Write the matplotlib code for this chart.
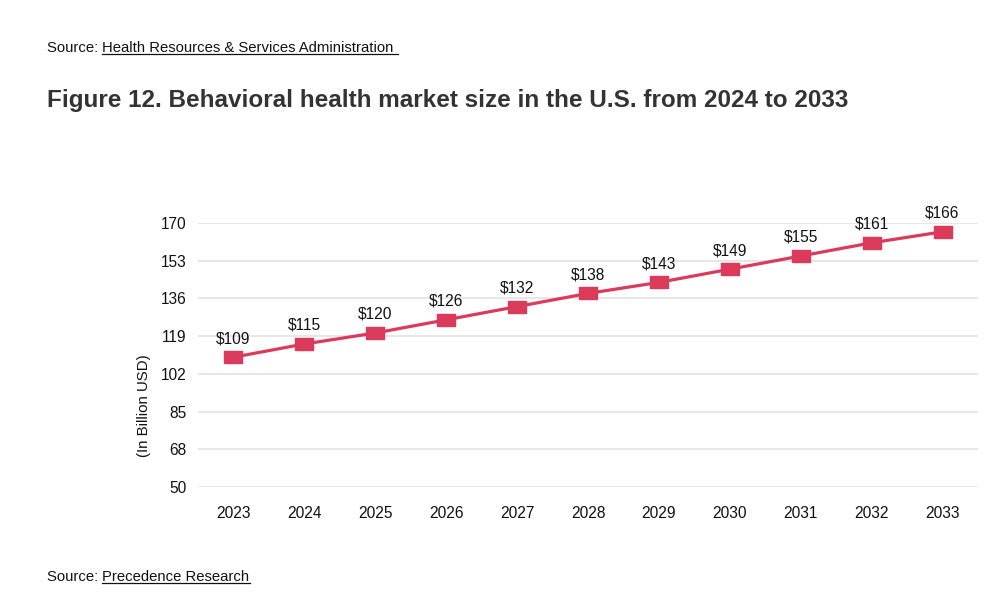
import matplotlib
matplotlib.use("Agg")
import matplotlib.pyplot as plt
from matplotlib.lines import Line2D
import numpy as np

plt.rcParams["font.family"] = ["Liberation Sans", "DejaVu Sans"]

# Data
years = ["2023", "2024", "2025", "2026", "2027", "2028", "2029", "2030", "2031", "2032", "2033"]
market_size = [109, 115, 120, 126, 132, 138, 143, 149, 155, 161, 166]
y_tick_labels = ["50", "68", "85", "102", "119", "136", "153", "170"]
y_min, y_max = 50, 170

title = "Figure 12. Behavioral health market size in the U.S. from 2024 to 2033"
source_top = "Health Resources & Services Administration "
source_bottom = "Precedence Research"

W, H = 997, 608
fig = plt.figure(figsize=(W / 100, H / 100), dpi=100)
fig.patch.set_facecolor("white")

# Eixo principal (pixels -> fração da figura)
left, right, top, bottom = 198, 978, 223, 487
ax = fig.add_axes([left / W, 1 - bottom / H, (right - left) / W, (bottom - top) / H])

x = np.arange(len(years))
color = "#db3a5b"
rect = [(-1.5, -1), (1.5, -1), (1.5, 1), (-1.5, 1), (-1.5, -1)]
ax.plot(x, market_size, color=color, linewidth=2.3, marker=rect, markersize=13.3,
        clip_on=False, zorder=3)

for xi, v in zip(x, market_size):
    ax.annotate(f"${v}", (xi, v), xytext=(0, 8), textcoords="offset points",
                ha="center", va="bottom", fontsize=11.2, color="#111111")

ticks = np.linspace(y_min, y_max, len(y_tick_labels))
ax.set_ylim(y_min, y_max)
ax.set_yticks(ticks)
ax.set_yticklabels(y_tick_labels)
ax.set_xlim(-0.5, len(years) - 0.5)
ax.set_xticks(x)
ax.set_xticklabels(years)

ax.grid(axis="y", color="#e3e3e3", linewidth=1.2)
ax.set_axisbelow(True)
for s in ax.spines.values():
    s.set_visible(False)
ax.tick_params(axis="both", length=0, labelsize=11.2, colors="#111111")
ax.tick_params(axis="y", pad=8.5)
ax.tick_params(axis="x", pad=14)
ax.set_ylabel("(In Billion USD)", fontsize=10.8, color="#111111", labelpad=7)
ax.yaxis.label.set_y(0.31)

# Textos fora do eixo
fig.text(47 / W, 1 - 100 / H, title, fontsize=17.5, fontweight="bold",
         color="#333333", ha="left", va="center")


def source_line(y_px, link):
    t1 = fig.text(47 / W, 1 - y_px / H, "Source: ", fontsize=10.7, color="#111111",
                  ha="left", va="center")
    fig.canvas.draw()
    bb = t1.get_window_extent()
    t2 = fig.text(bb.x1 / W, 1 - y_px / H, link, fontsize=10.7, color="#111111",
                  ha="left", va="center")
    fig.canvas.draw()
    bb2 = t2.get_window_extent()
    uy = (bb2.y0 + 1.5) / H
    fig.add_artist(Line2D([bb2.x0 / W, bb2.x1 / W], [uy, uy], color="#111111",
                          linewidth=0.9, transform=fig.transFigure))


source_line(48, source_top)
source_line(577, source_bottom)

fig.savefig("out.png", dpi=100, facecolor="white")
